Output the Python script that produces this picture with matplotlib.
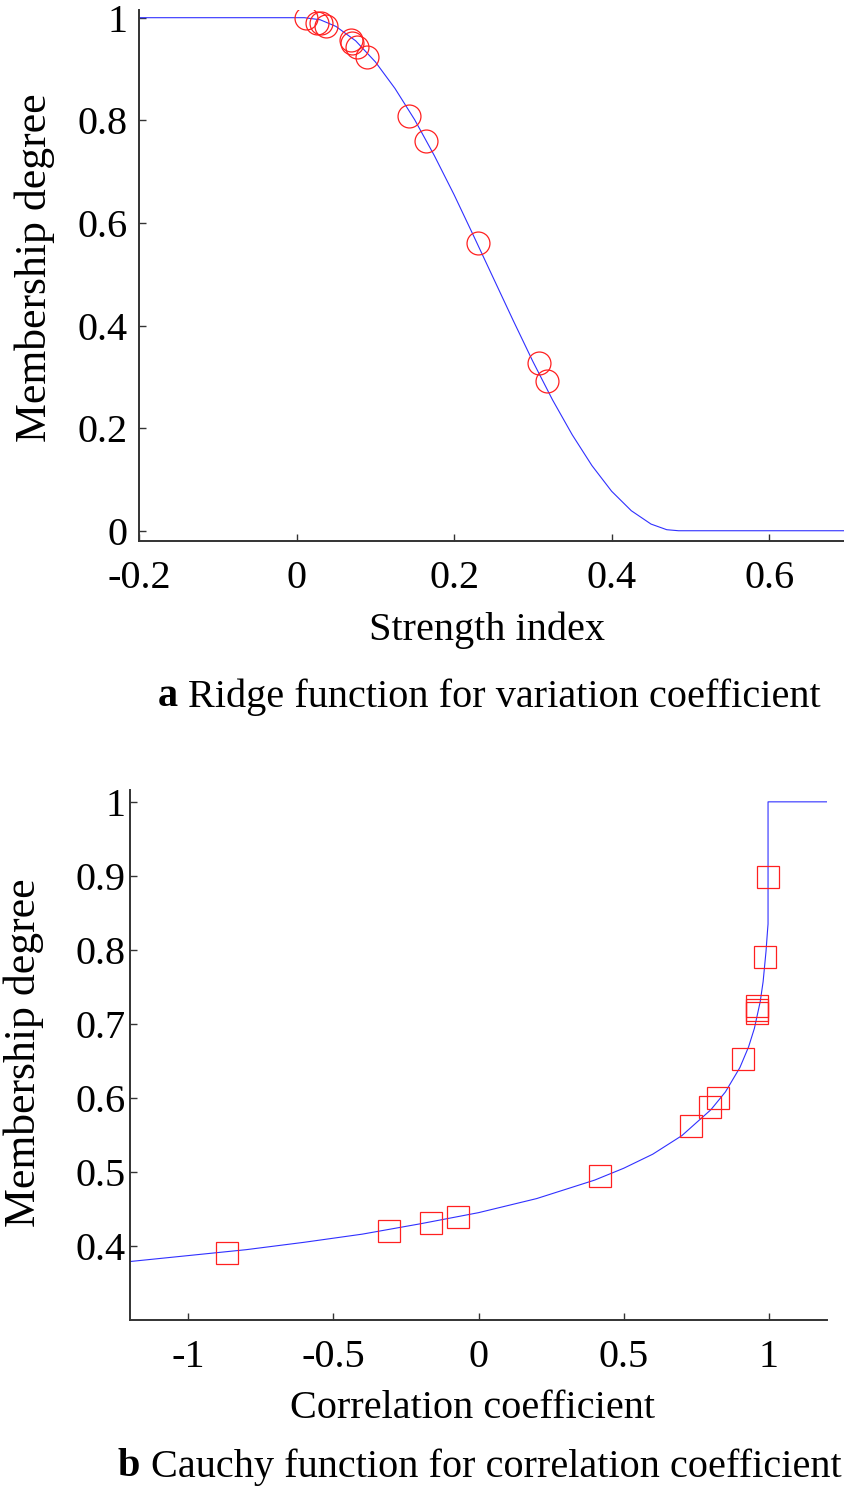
import matplotlib
matplotlib.use('Agg')
import matplotlib.pyplot as plt

# ── Data: panel a (ridge function) ───────────────────────────────────────────
ridge_x = [-0.2, 0.01, 0.03, 0.05, 0.075, 0.1, 0.125, 0.15, 0.175, 0.2, 0.225,
           0.25, 0.275, 0.3, 0.325, 0.35, 0.375, 0.4, 0.425, 0.45, 0.47, 0.485, 0.695]
ridge_y = [1.0, 1.0, 0.996, 0.983, 0.955, 0.914, 0.862, 0.801, 0.731, 0.655, 0.574,
           0.492, 0.410, 0.330, 0.255, 0.187, 0.127, 0.077, 0.039, 0.013, 0.002, 0.0, 0.0]
strength_x = [0.0115, 0.0255, 0.0306, 0.037, 0.0688, 0.070, 0.0764, 0.0892,
              0.1427, 0.1643, 0.2306, 0.3083, 0.3185]
strength_y = [1.0, 0.990, 0.990, 0.984, 0.957, 0.951, 0.943, 0.924,
              0.809, 0.760, 0.561, 0.326, 0.292]

# ── Data: panel b (Cauchy function) ──────────────────────────────────────────
cauchy_x = [-1.2, -1.0, -0.8, -0.6, -0.4, -0.2, 0.0, 0.2, 0.4, 0.5, 0.6, 0.7, 0.8,
            0.85, 0.9, 0.93, 0.95, 0.97, 0.98, 0.99, 0.995, 0.997, 0.997, 1.2]
cauchy_y = [0.379, 0.387, 0.395, 0.405, 0.416, 0.430, 0.445, 0.464, 0.489, 0.505,
            0.524, 0.549, 0.584, 0.608, 0.641, 0.669, 0.694, 0.730, 0.757, 0.798,
            0.825, 0.835, 1.0, 1.0]
corr_x = [-0.867, -0.307, -0.1635, -0.0695, 0.418, 0.7315, 0.798, 0.8255,
          0.912, 0.960, 0.960, 0.960, 0.987, 0.9975]
corr_y = [0.390, 0.420, 0.431, 0.439, 0.4946, 0.5626, 0.588, 0.5996,
          0.652, 0.715, 0.719, 0.724, 0.790, 0.898]

xticks_a = [-0.2, 0, 0.2, 0.4, 0.6]
xticklabels_a = ['-0.2', '0', '0.2', '0.4', '0.6']
yticks_a = [0, 0.2, 0.4, 0.6, 0.8, 1]
yticklabels_a = ['0', '0.2', '0.4', '0.6', '0.8', '1']
xticks_b = [-1, -0.5, 0, 0.5, 1]
xticklabels_b = ['-1', '-0.5', '0', '0.5', '1']
yticks_b = [0.4, 0.5, 0.6, 0.7, 0.8, 0.9, 1]
yticklabels_b = ['0.4', '0.5', '0.6', '0.7', '0.8', '0.9', '1']

# ── Style ────────────────────────────────────────────────────────────────────
W, H = 844, 1491
FS = 29          # tick labels, x labels, captions
FS_Y = 31.5      # rotated y labels (reference looks vertically stretched)
LINE = '#3030FF'
MARK = '#FF2020'
SPINE = '#333333'
plt.rcParams['font.family'] = ['Liberation Serif', 'DejaVu Serif']

fig = plt.figure(figsize=(W / 100, H / 100), dpi=100)


def px_axes(left, right, top, bottom):
    """Axes placed by pixel edges (origin top-left)."""
    return fig.add_axes([left / W, 1 - bottom / H, (right - left) / W, (bottom - top) / H])


def px_text(x, y, s, **kw):
    return fig.text(x / W, 1 - y / H, s, **kw)


def style(ax, xpad, ypad):
    for s in ('top', 'right'):
        ax.spines[s].set_visible(False)
    for s in ('left', 'bottom'):
        ax.spines[s].set_color(SPINE)
        ax.spines[s].set_linewidth(1.4)
    ax.tick_params(direction='in', length=5, width=1.0, color=SPINE, labelsize=FS)
    ax.tick_params(axis='x', pad=xpad)
    ax.tick_params(axis='y', pad=ypad)


def caption(letter, rest, cx, cy):
    """Centered caption with a bold panel letter."""
    t1 = px_text(0, cy, letter + ' ', fontweight='bold', fontsize=FS, va='center')
    t2 = px_text(0, cy, rest, fontsize=FS, va='center')
    r = fig.canvas.get_renderer()
    w1 = t1.get_window_extent(r).width
    w2 = t2.get_window_extent(r).width
    x0 = cx - (w1 + w2) / 2
    t1.set_x(x0 / W)
    t2.set_x((x0 + w1) / W)


# ── Panel a ──────────────────────────────────────────────────────────────────
ax1 = px_axes(139, 844, 10, 541)
ax1.plot(ridge_x, ridge_y, color=LINE, lw=0.8)
ax1.plot(strength_x, strength_y, 'o', ms=16.5, mfc='none', mec=MARK, mew=0.9)
ax1.set_xlim(-0.2, 0.695)
ax1.set_ylim(-0.02, 1.015)
ax1.set_xticks(xticks_a, xticklabels_a)
ax1.set_yticks(yticks_a, yticklabels_a)
style(ax1, 14, 8)

px_text(35, 268, 'Membership degree', rotation=90, ha='center', va='center', fontsize=FS_Y)
px_text(487, 630, 'Strength index', ha='center', va='center', fontsize=FS)
caption('a', 'Ridge function for variation coefficient', 489, 697)

# ── Panel b ──────────────────────────────────────────────────────────────────
ax2 = px_axes(130, 827, 790, 1320)
ax2.plot(cauchy_x, cauchy_y, color=LINE, lw=0.8)
ax2.plot(corr_x, corr_y, 's', ms=16, mfc='none', mec=MARK, mew=0.9)
ax2.set_xlim(-1.2, 1.2)
ax2.set_ylim(0.3, 1.016)
ax2.set_xticks(xticks_b, xticklabels_b)
ax2.set_yticks(yticks_b, yticklabels_b)
style(ax2, 14, 3)

px_text(24, 1053, 'Membership degree', rotation=90, ha='center', va='center', fontsize=FS_Y)
px_text(472, 1408, 'Correlation coefficient', ha='center', va='center', fontsize=FS)
caption('b', 'Cauchy function for correlation coefficient', 480, 1467)

fig.savefig('out.png', dpi=100)
